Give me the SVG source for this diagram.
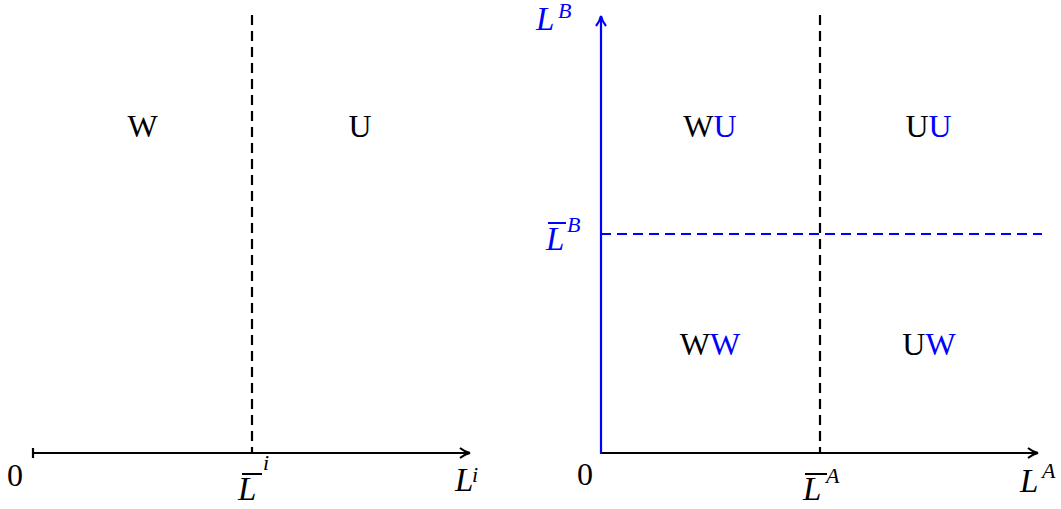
<svg xmlns="http://www.w3.org/2000/svg" width="1061" height="509" viewBox="0 0 1061 509">
<style>
.t{font-family:"Liberation Serif","DejaVu Serif",serif;font-size:32px;fill:#000}
.m{font-family:"Liberation Serif","DejaVu Serif",serif;font-style:italic;font-size:33px}
.s{font-family:"Liberation Serif","DejaVu Serif",serif;font-style:italic;font-size:22px}
.b{fill:#0000ff}
.k{fill:#000}
.ax{stroke:#000;stroke-width:2.2;fill:none}
.axb{stroke:#0000ff;stroke-width:2.2;fill:none}
.dk{stroke:#000;stroke-width:2.2;stroke-dasharray:10 6;fill:none}
.db{stroke:#0000ff;stroke-width:2.2;stroke-dasharray:10 6;fill:none}
</style>
<rect width="1061" height="509" fill="#fff"/>
<g id="connectors">
  <line class="dk" x1="252" y1="15" x2="252" y2="453"/>
  <line class="dk" x1="820" y1="15" x2="820" y2="453"/>
  <line class="db" x1="601" y1="234" x2="1042" y2="234"/>
  <line class="ax" x1="33" y1="453" x2="469" y2="453"/>
  <line class="ax" x1="33" y1="448" x2="33" y2="458"/>
  <path class="ax" d="M460,448 Q465,452 470,453 Q465,454 460,458"/>
  <line class="ax" x1="600" y1="453" x2="1037" y2="453"/>
  <path class="ax" d="M1028,448 Q1033,452 1038,453 Q1033,454 1028,458"/>
  <line class="axb" x1="601" y1="454" x2="601" y2="17"/>
  <path class="axb" d="M596,26 Q600,21 601,16 Q602,21 606,26"/>
</g>
<g id="left-W"><text class="t" x="142.5" y="137" text-anchor="middle">W</text></g>
<g id="left-U"><text class="t" x="360" y="137" text-anchor="middle">U</text></g>
<g id="WU"><text class="t" x="710" y="137" text-anchor="middle">W<tspan class="b">U</tspan></text></g>
<g id="UU"><text class="t" x="928.5" y="137" text-anchor="middle">U<tspan class="b">U</tspan></text></g>
<g id="WW"><text class="t" x="710" y="355" text-anchor="middle">W<tspan class="b">W</tspan></text></g>
<g id="UW"><text class="t" x="929" y="355" text-anchor="middle">U<tspan class="b">W</tspan></text></g>
<g id="zero-left"><text class="t" x="15" y="486" text-anchor="middle">0</text></g>
<g id="zero-right"><text class="t" x="585" y="485" text-anchor="middle">0</text></g>
<g id="Lbar-i">
  <line x1="242" y1="474" x2="262" y2="474" stroke="#000" stroke-width="2"/>
  <text class="m k" x="238" y="500">L</text>
  <text class="s k" x="263" y="470">i</text>
</g>
<g id="L-i">
  <text class="m k" x="455" y="491">L</text>
  <text class="s k" x="472" y="482">i</text>
</g>
<g id="Lbar-A">
  <line x1="805" y1="474" x2="827" y2="474" stroke="#000" stroke-width="2"/>
  <text class="m k" x="803" y="500">L</text>
  <text class="s k" x="826" y="483">A</text>
</g>
<g id="L-A">
  <text class="m k" x="1020" y="492">L</text>
  <text class="s k" x="1042" y="478">A</text>
</g>
<g id="L-B">
  <text class="m b" x="536" y="30">L</text>
  <text class="s b" x="558" y="18">B</text>
</g>
<g id="Lbar-B">
  <line x1="548" y1="223" x2="566" y2="223" stroke="#0000ff" stroke-width="2"/>
  <text class="m b" x="546" y="250">L</text>
  <text class="s b" x="567" y="232">B</text>
</g>
</svg>
